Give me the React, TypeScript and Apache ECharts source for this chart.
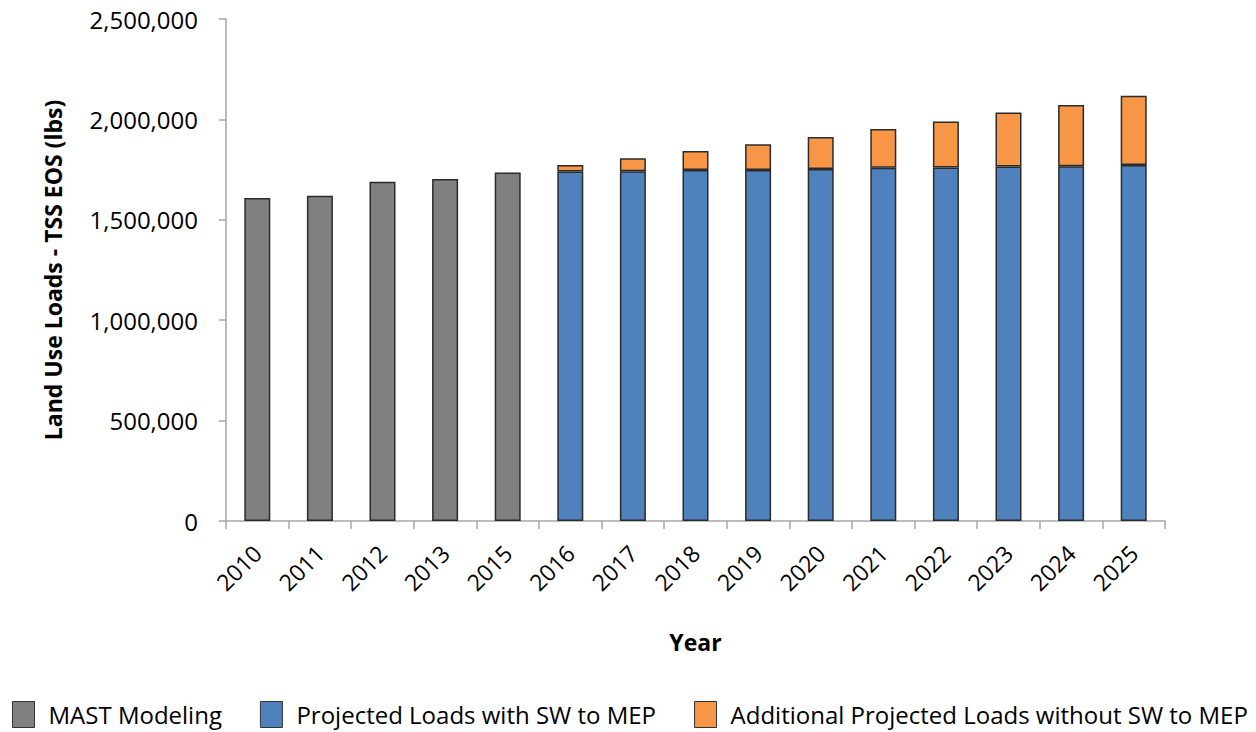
import React, { useEffect, useRef } from "react";
import * as echarts from "echarts";

const years = ["2010", "2011", "2012", "2013", "2015", "2016", "2017", "2018", "2019", "2020", "2021", "2022", "2023", "2024", "2025"];
const mastModeling = [1608000, 1620000, 1690000, 1703000, 1735000, null, null, null, null, null, null, null, null, null, null];
const projectedWithSW = [null, null, null, null, null, 1741000, 1742000, 1748000, 1748000, 1753000, 1759000, 1760000, 1766000, 1767000, 1773000];
const additionalWithoutSW = [null, null, null, null, null, 32000, 64000, 95000, 128000, 159000, 193000, 229000, 268000, 305000, 345000];
const yTicks = { min: 0, max: 2500000, interval: 500000 };

const FONT = "'Open Sans', sans-serif";

export default function App() {
  const ref = useRef<HTMLDivElement>(null);
  useEffect(() => {
    document.body.style.margin = "0";
    if (!ref.current) return;
    const chart = echarts.init(ref.current, undefined, { renderer: "svg" });
    const border = { borderColor: "#2b2b2b", borderWidth: 1.5 };
    chart.setOption({
      animation: false,
      textStyle: { fontFamily: FONT },
      grid: { left: 226, right: 91, top: 19, bottom: 211, containLabel: false },
      legend: {
        top: 701,
        left: 12,
        width: 1244,
        padding: 0,
        itemWidth: 22,
        itemHeight: 26,
        itemGap: 38,
        icon: "rect",
        textStyle: { fontFamily: FONT, fontSize: 24, lineHeight: 26, color: "#000", padding: [0, 0, 0, 9] },
        itemStyle: { borderColor: "#333", borderWidth: 1 },
        data: ["MAST Modeling", "Projected Loads with SW to MEP", "Additional Projected Loads without SW to MEP"],
      },
      xAxis: {
        type: "category",
        data: years,
        name: "Year",
        nameLocation: "middle",
        nameGap: 109,
        nameTextStyle: { fontFamily: FONT, fontSize: 23, fontWeight: "bold", color: "#000" },
        axisLine: { lineStyle: { color: "#a6a6a6", width: 1.5 } },
        axisTick: { show: true, length: 8, lineStyle: { color: "#a6a6a6", width: 1.5 } },
        axisLabel: { rotate: 45, margin: 28, fontFamily: FONT, fontSize: 23, color: "#000", interval: 0 },
      },
      yAxis: {
        type: "value",
        min: yTicks.min,
        max: yTicks.max,
        interval: yTicks.interval,
        name: "Land Use Loads - TSS EOS (lbs)",
        nameLocation: "middle",
        nameGap: 162,
        nameRotate: 90,
        nameTextStyle: { fontFamily: FONT, fontSize: 23, fontWeight: "bold", color: "#000" },
        splitLine: { show: false },
        axisLine: { show: true, lineStyle: { color: "#a6a6a6", width: 1.5 } },
        axisTick: { show: true, length: 7, lineStyle: { color: "#a6a6a6", width: 1.5 } },
        axisLabel: {
          margin: 28,
          fontFamily: FONT,
          fontSize: 24,
          color: "#000",
          formatter: (v: number) => v.toLocaleString("en-US"),
        },
      },
      series: [
        {
          name: "MAST Modeling",
          type: "bar",
          stack: "total",
          barWidth: 26,
          data: mastModeling,
          itemStyle: { color: "#808080", ...border },
        },
        {
          name: "Projected Loads with SW to MEP",
          type: "bar",
          stack: "total",
          barWidth: 26,
          data: projectedWithSW,
          itemStyle: { color: "#4f81bd", ...border },
        },
        {
          name: "Additional Projected Loads without SW to MEP",
          type: "bar",
          stack: "total",
          barWidth: 26,
          data: additionalWithoutSW,
          itemStyle: { color: "#f79646", ...border },
        },
      ],
    });
    return () => chart.dispose();
  }, []);
  return <div ref={ref} style={{ width: 1256, height: 732 }} />;
}
